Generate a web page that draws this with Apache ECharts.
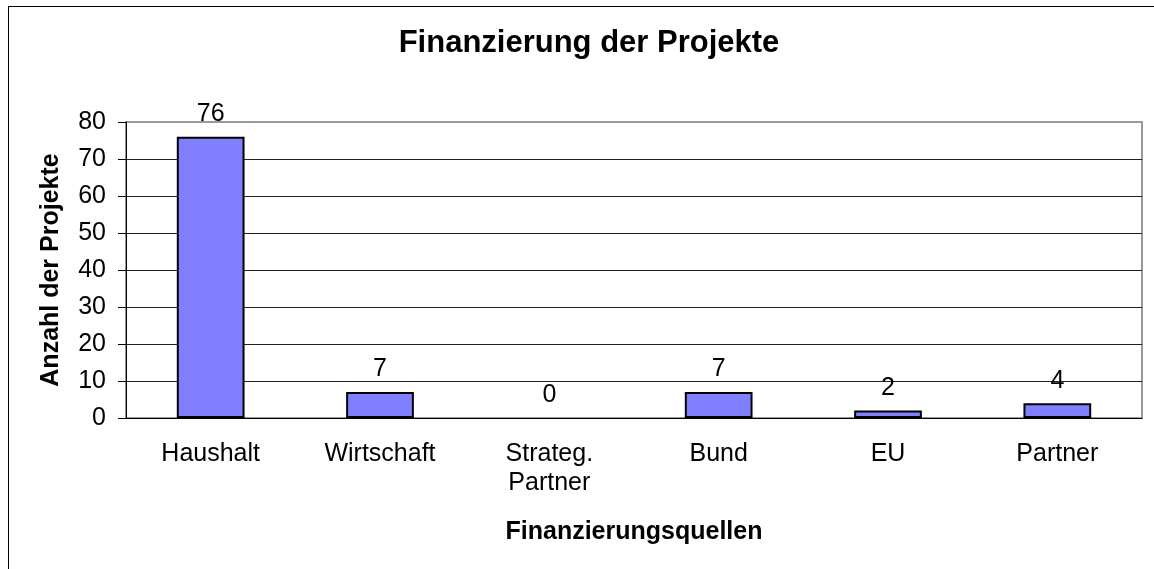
<!DOCTYPE html>
<html>
<head>
<meta charset="utf-8">
<script src="https://cdn.jsdelivr.net/npm/echarts@6/dist/echarts.min.js"></script>
<style>
  html, body { margin: 0; padding: 0; background: #fff; overflow: hidden; }
  #frame { position: absolute; left: 8px; top: 6px; width: 1200px; height: 600px; border-left: 1px solid #000; border-top: 1px solid #000; }
  #chart { position: absolute; left: 0; top: 0; width: 1154px; height: 569px; }
</style>
</head>
<body>
<div id="frame"></div>
<div id="chart"></div>
<script>
const FONT = '"Liberation Sans", Arial, sans-serif'

const categories = ['Haushalt', 'Wirtschaft', 'Strateg.\nPartner', 'Bund', 'EU', 'Partner']
const projectCounts = [76, 7, 0, 7, 2, 4]
const yTicks = { min: 0, max: 80, interval: 10 }

const chart = echarts.init(document.getElementById('chart'))
chart.setOption({
  animation: false,
  title: {
    text: 'Finanzierung der Projekte',
    left: 584,
    top: 23,
    textAlign: 'center',
    textStyle: { fontFamily: FONT, fontSize: 31, fontWeight: 'bold', color: '#000' },
  },
  grid: {
    left: 126, right: 12, top: 122, bottom: 151,
    show: true, borderColor: '#999', borderWidth: 2, backgroundColor: '#fff',
  },
  xAxis: {
    type: 'category',
    data: categories,
    name: 'Finanzierungsquellen',
    nameLocation: 'middle',
    nameGap: 102,
    nameTextStyle: { fontFamily: FONT, fontSize: 25, fontWeight: 'bold', color: '#000' },
    axisLine: { lineStyle: { color: '#000', width: 1 } },
    axisTick: { length: 7, lineStyle: { color: '#000' } },
    axisLabel: { fontFamily: FONT, fontSize: 25, color: '#000', margin: 22, lineHeight: 29 },
  },
  yAxis: {
    type: 'value',
    min: yTicks.min,
    max: yTicks.max,
    interval: yTicks.interval,
    name: 'Anzahl der Projekte',
    nameLocation: 'middle',
    nameGap: 62,
    nameTextStyle: { fontFamily: FONT, fontSize: 25, fontWeight: 'bold', color: '#000' },
    axisLine: { show: true, lineStyle: { color: '#000', width: 1 } },
    axisTick: { show: true, length: 8, lineStyle: { color: '#000' } },
    axisLabel: { fontFamily: FONT, fontSize: 25, color: '#000', margin: 20 },
    splitLine: { show: true, showMaxLine: false, lineStyle: { color: '#222', width: 1 } },
  },
  series: [{
    type: 'bar',
    // a zero bar is not drawn at all in the original, not even its outline
    data: projectCounts.map(v => (v === 0 ? { value: v, itemStyle: { borderWidth: 0 } } : v)),
    barWidth: '40%',
    itemStyle: { color: '#8080ff', borderColor: '#000', borderWidth: 2 },
    label: {
      show: true, position: 'top', distance: 10,
      fontFamily: FONT, fontSize: 25, color: '#000',
    },
  }],
})
</script>
</body>
</html>
